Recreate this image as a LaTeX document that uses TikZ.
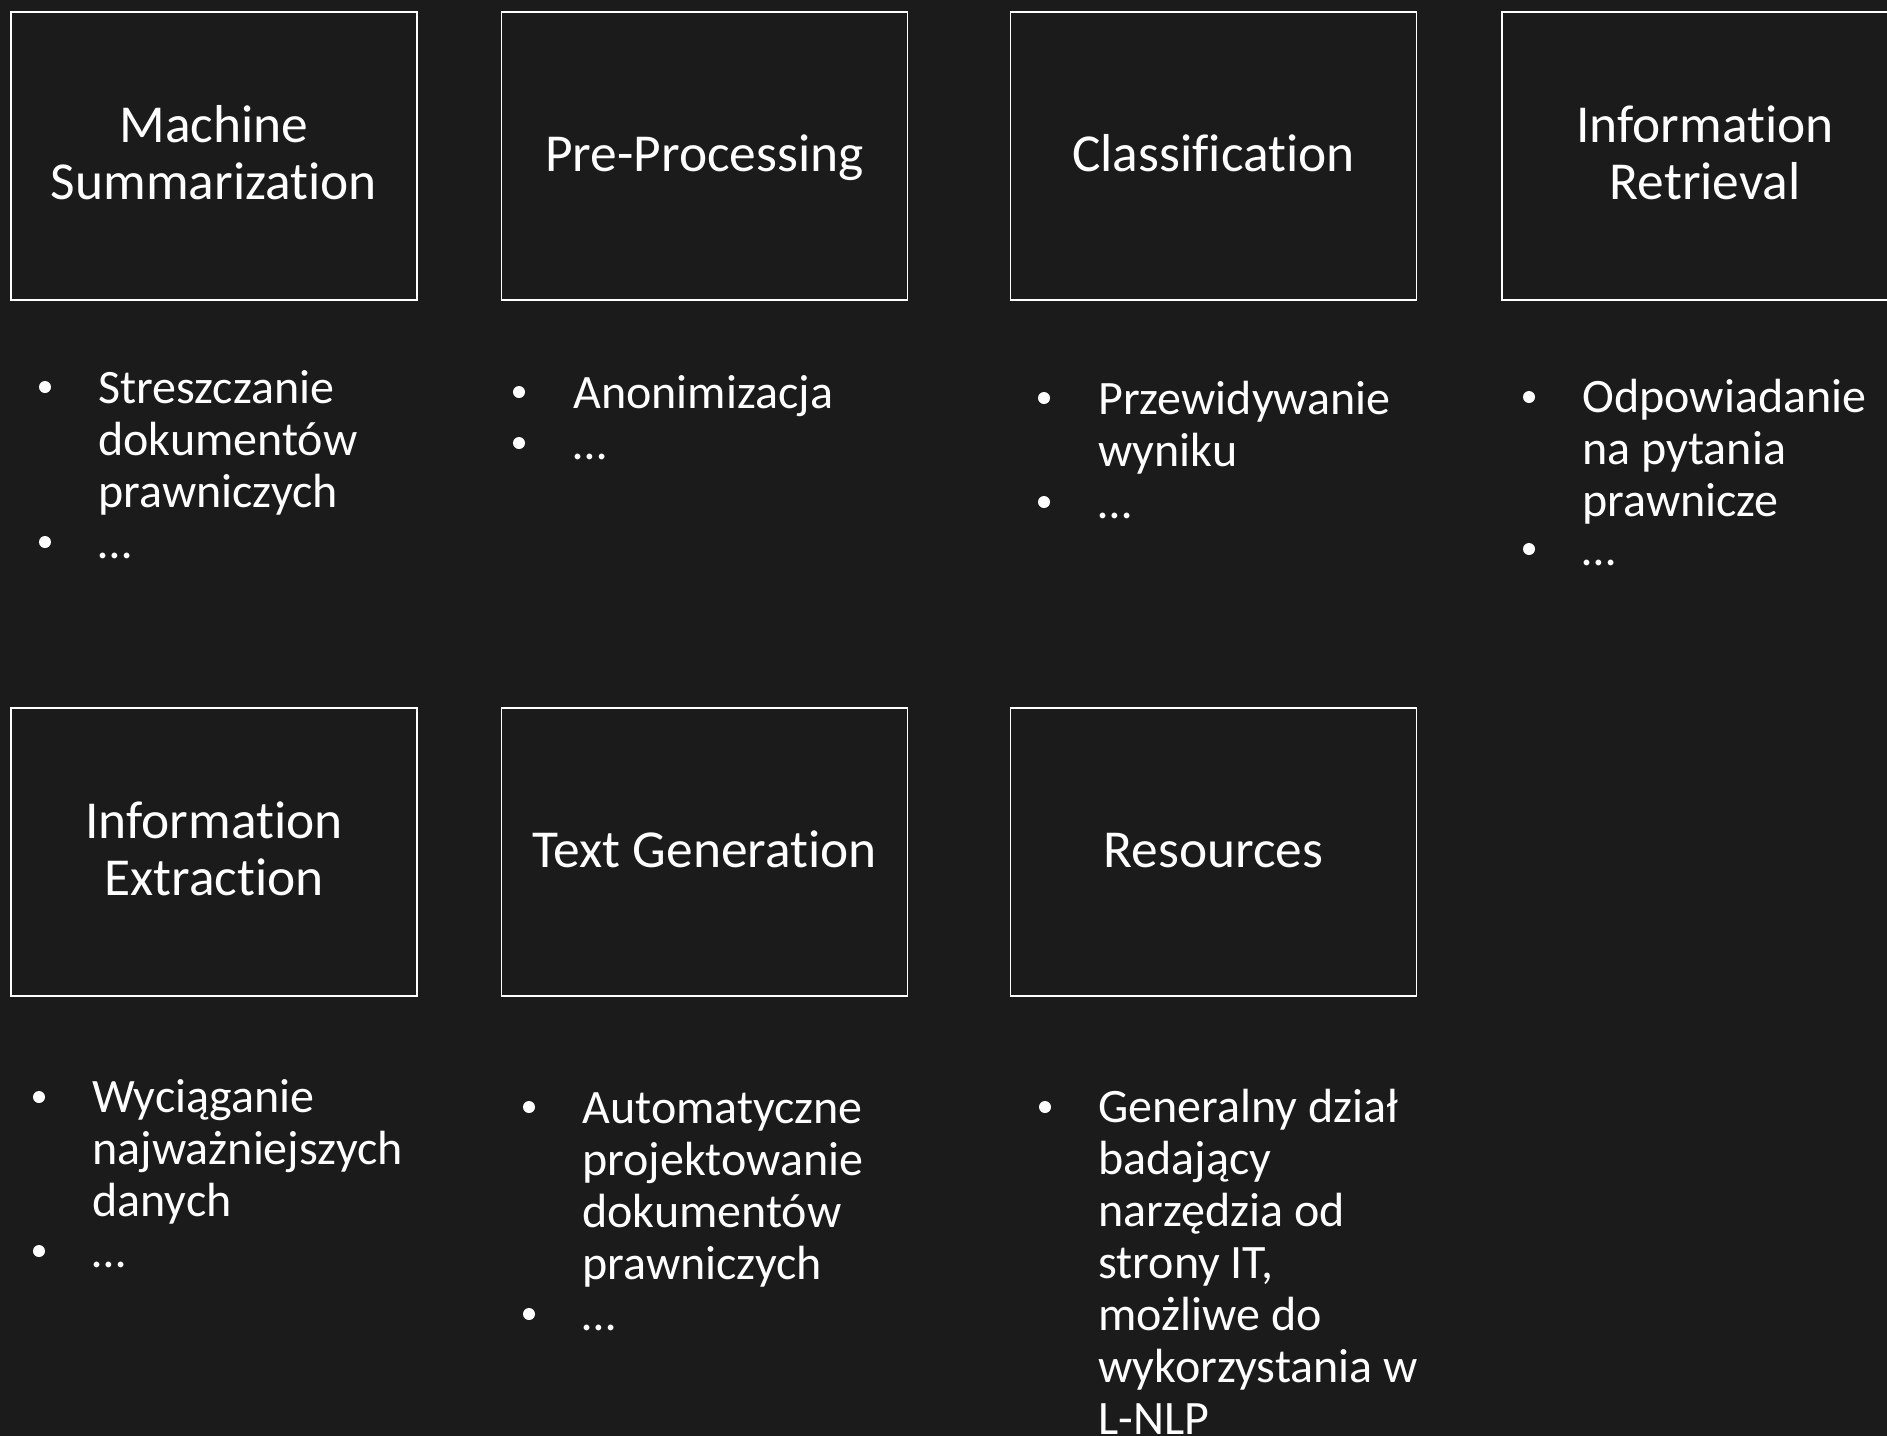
\documentclass[tikz,border=0pt]{standalone}
\usepackage{fontspec}
\setmainfont{Carlito}[Ligatures=NoCommon]
\definecolor{slidebg}{HTML}{1B1B1B}

\begin{document}
\begin{tikzpicture}[x=0.5pt,y=-0.5pt,
    card/.style={draw=white,line width=0.75pt,minimum width=203pt,minimum height=144pt,
      inner sep=0pt,align=center,text=white,font=\fontsize{26.7}{28.5}\selectfont},
    oneline/.style={text height=15pt,text depth=0pt},
    twoline/.style={text height=43pt,text depth=0pt},
    item/.style={anchor=base west,inner sep=0pt,align=left,text=white,
      font=\fontsize{24}{26}\selectfont},
    dot/.style={circle,fill=white,inner sep=0pt,minimum size=6pt}]
    \fill[slidebg] (0,0) rectangle (1887,1436);
    \useasboundingbox (0,0) rectangle (1887,1436);

    \node[card,twoline] (summ) at (214,156) {Machine\\Summarization};
    \node[card,oneline] (prep) at (704.5,156) {Pre-Processing};
    \node[card,oneline] (clas) at (1213.5,156) {Classification};
    \node[card,twoline] (retr) at (1705,156) {Information\\Retrieval};
    \node[card,twoline] (extr) at (214,852) {Information\\Extraction};
    \node[card,oneline] (gene) at (704.5,852) {Text Generation};
    \node[card,oneline] (reso) at (1213.5,852) {Resources};

    % base = last line of each text
    \node[item] (summa) at (98,507) {Streszczanie\\dokumentów\\prawniczych};
    \node[item] (prepa) at (573,408) {Anonimizacja};
    \node[item] (clasa) at (1098,466) {Przewidywanie\\wyniku};
    \node[item] (retra) at (1582,516) {Odpowiadanie\\na pytania\\prawnicze};
    \node[item] (extra) at (92,1216) {Wyciąganie\\najważniejszych\\danych};
    \node[item] (genea) at (582,1279) {Automatyczne\\projektowanie\\dokumentów\\prawniczych};
    \node[item] (resoa) at (1098,1434) {Generalny dział\\badający\\narzędzia od\\strony IT,\\możliwe do\\wykorzystania w\\L-NLP};

    \foreach \n/\x/\y in {summb/98/558,prepb/573/459,clasb/1098/518,retrb/1582/565,
                          extrb/92/1267,geneb/582/1330} {
      \node[item] (\n) at (\x,\y) {…};
    }
    \foreach \n/\x/\y in {d1/45/387,d2/45/542,d3/519/392,d4/519/443,d5/1044/398,d6/1044/502,
                          d7/1529/397,d8/1529/549,d9/39/1097,d10/39/1251,d11/529/1107,
                          d12/529/1314,d13/1045/1107} {
      \node[dot] (\n) at (\x,\y) {};
    }
  \end{tikzpicture}
\end{document}
